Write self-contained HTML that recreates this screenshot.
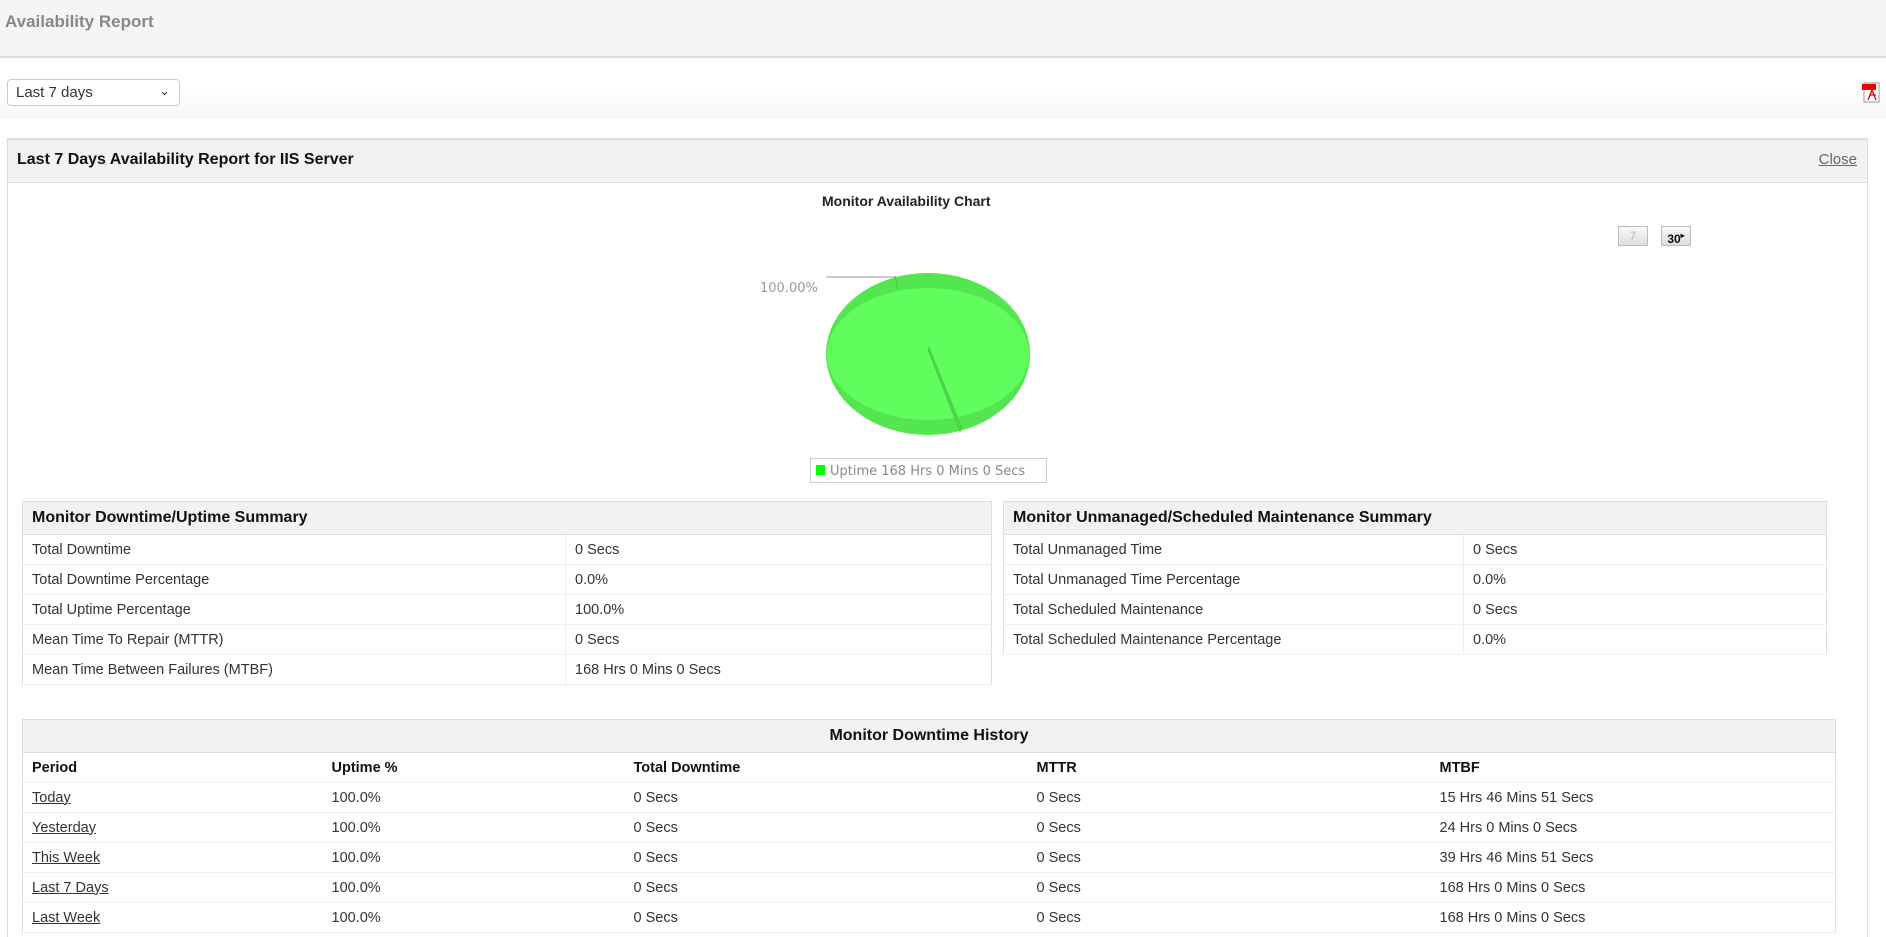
<!DOCTYPE html>
<html style="overflow:hidden;width:1886px;height:937px"><head><meta charset="utf-8"><style>
*{margin:0;padding:0;box-sizing:border-box}
body{width:1886px;height:937px;overflow:hidden;background:#fff;font-family:"Liberation Sans",Arial,sans-serif;color:#333;position:relative}
.a{position:absolute}
.hdr{left:0;top:0;width:1886px;height:58px;background:#f5f5f5;border-bottom:2px solid #ddd}
.hdr span{position:absolute;left:5px;top:12px;font-size:17px;font-weight:bold;color:#888}
.tb{left:0;top:58px;width:1886px;height:60px;background:linear-gradient(#fff 60%,#f6f6f6);border-bottom:1px solid #eee}
.sel{left:7px;top:79px;width:173px;height:27px;border:1px solid #ccc;border-radius:4px;background:#fff;font-size:15px;padding:4px 8px;color:#333}
.panel{left:7px;top:138px;width:1861px;height:799px;border:1px solid #ddd;border-top:2px solid #ddd;border-bottom:none}
.ph{left:7px;top:138px;width:1861px;height:45px;background:#f2f2f2;border:1px solid #ddd;border-top:2px solid #ddd}
.ph b{position:absolute;left:9px;top:11px;font-size:16px;color:#111}
.ph u{position:absolute;right:10px;top:11px;font-size:15px;color:#666}
table{position:absolute;border-collapse:collapse;font-size:14.5px;border:1px solid #ddd}
td,th{height:30px;padding:0 9px;text-align:left;border-bottom:1px solid #eee;white-space:nowrap}
th.t{background:#f2f2f2;font-size:16px;color:#111;height:33px;border-bottom:1px solid #ddd}
td.v{border-left:1px solid #eee}
.hist th{font-weight:bold;color:#111}
.btn{height:20px;width:30px;border:1px solid #bbb;background:linear-gradient(#fafafa,#ddd);font-size:12px;font-weight:bold;text-align:center;line-height:18px}
</style></head><body>
<div class="a hdr"><span>Availability Report</span></div>
<div class="a tb"></div>
<div class="a sel">Last 7 days<span style="position:absolute;right:9px;top:3px;font-size:13px">&#8964;</span></div>
<svg class="a" style="left:1862px;top:82px" width="20" height="22"><rect x="2" y="1" width="15" height="19" fill="#fff" stroke="#999"/><rect x="0" y="2" width="14" height="6" fill="#e00"/><path d="M6 18 L10 8 L14 18 M8 13 H14" stroke="#d00" fill="none" stroke-width="1.3"/></svg>
<div class="a panel"></div>
<div class="a ph"><b>Last 7 Days Availability Report for IIS Server</b><u>Close</u></div>
<div class="a" style="left:822px;top:193px;font-size:14px;font-weight:bold;color:#222">Monitor Availability Chart</div>
<div class="a btn" style="left:1618px;top:226px;color:#ccc">7</div>
<div class="a btn" style="left:1661px;top:226px;color:#111">30<sup style="font-size:8px">&#9656;</sup></div>
<svg class="a" style="left:740px;top:260px" width="320" height="230">
<line x1="86" y1="17" x2="156" y2="17" stroke="#999"/>
<text x="20" y="32" font-family="DejaVu Sans,sans-serif" font-size="13" fill="#999">100.00%</text>
<ellipse cx="188" cy="94" rx="102" ry="81" fill="#53e650"/>
<ellipse cx="188" cy="94" rx="101" ry="66" fill="#60fd5c"/>
<line x1="155" y1="16" x2="158" y2="29" stroke="#48c846"/>
<path d="M189 87 L222 168 L220 172 L188 90Z" fill="#4ed64b" stroke="#48c846" stroke-width="0.6"/>
<rect x="70.5" y="198.5" width="236" height="24" fill="#fff" stroke="#ccc"/>
<rect x="76" y="205" width="9" height="10" fill="#0f0"/>
<text x="90" y="215" font-family="DejaVu Sans,sans-serif" font-size="13" fill="#888">Uptime 168 Hrs 0 Mins 0 Secs</text>
</svg>
<table style="left:22px;top:501px;width:970px">
<tr><th class="t" colspan="2">Monitor Downtime/Uptime Summary</th></tr>
<tr><td style="width:543px">Total Downtime</td><td class="v">0 Secs</td></tr>
<tr><td>Total Downtime Percentage</td><td class="v">0.0%</td></tr>
<tr><td>Total Uptime Percentage</td><td class="v">100.0%</td></tr>
<tr><td>Mean Time To Repair (MTTR)</td><td class="v">0 Secs</td></tr>
<tr><td>Mean Time Between Failures (MTBF)</td><td class="v">168 Hrs 0 Mins 0 Secs</td></tr>
</table>
<table style="left:1003px;top:501px;width:824px">
<tr><th class="t" colspan="2">Monitor Unmanaged/Scheduled Maintenance Summary</th></tr>
<tr><td style="width:460px">Total Unmanaged Time</td><td class="v">0 Secs</td></tr>
<tr><td>Total Unmanaged Time Percentage</td><td class="v">0.0%</td></tr>
<tr><td>Total Scheduled Maintenance</td><td class="v">0 Secs</td></tr>
<tr><td>Total Scheduled Maintenance Percentage</td><td class="v">0.0%</td></tr>
</table>
<table class="hist" style="left:22px;top:719px;width:1814px">
<tr><th class="t" colspan="5" style="text-align:center">Monitor Downtime History</th></tr>
<tr><th style="width:300px">Period</th><th style="width:302px">Uptime %</th><th style="width:403px">Total Downtime</th><th style="width:403px">MTTR</th><th>MTBF</th></tr>
<tr><td><u>Today</u></td><td>100.0%</td><td>0 Secs</td><td>0 Secs</td><td>15 Hrs 46 Mins 51 Secs</td></tr>
<tr><td><u>Yesterday</u></td><td>100.0%</td><td>0 Secs</td><td>0 Secs</td><td>24 Hrs 0 Mins 0 Secs</td></tr>
<tr><td><u>This Week</u></td><td>100.0%</td><td>0 Secs</td><td>0 Secs</td><td>39 Hrs 46 Mins 51 Secs</td></tr>
<tr><td><u>Last 7 Days</u></td><td>100.0%</td><td>0 Secs</td><td>0 Secs</td><td>168 Hrs 0 Mins 0 Secs</td></tr>
<tr><td><u>Last Week</u></td><td>100.0%</td><td>0 Secs</td><td>0 Secs</td><td>168 Hrs 0 Mins 0 Secs</td></tr>
</table>
</body></html>
